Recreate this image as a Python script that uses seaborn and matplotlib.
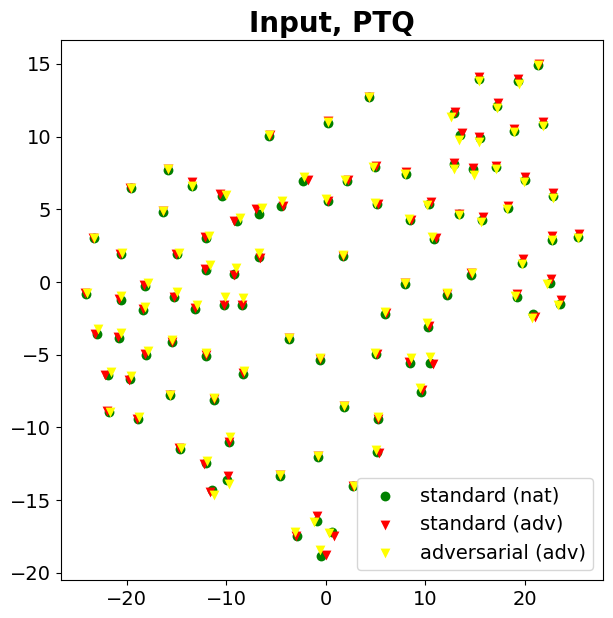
import matplotlib
matplotlib.use("Agg")
import matplotlib.pyplot as plt
import seaborn as sns
import pandas as pd

# green: standard (nat)
nat_x = [21.3, 15.4, 19.3, 17.2, 4.35, 0.23, -5.7, 12.9, 13.5, 15.5, 18.9, 21.8, 12.9, 14.8, 17.1, 20.0, 22.85, 10.4, 18.3, 13.4,
         15.7, -15.9, -19.6, -13.4, -10.45, -16.35, -8.9, 4.9, 8.1, -2.3, 2.1, -6.7, -4.45, 0.2, 5.1, 8.45, -23.3, -20.6, -14.9, -12.0,
         -12.0, -9.2, -18.2, -24.1, -20.6, -18.4, -15.2, -13.1, -10.2, -8.4, -23.0, -20.8, -15.4, -18.1, -12.0, -8.3, -21.9, -19.7, -15.6, -11.2,
         -6.7, 1.74, 8.0, 5.93, -3.7, -0.6, 5.0, 8.44, 9.6, 1.84, 10.9, 22.75, 25.35, 19.75, 14.6, 12.2, 22.5, 19.2, 23.5, 20.8,
         10.3, 10.5, -21.8, -18.9, -14.6, -9.7, -12.0, -9.88, -11.4, 5.26, -0.77, 5.16, -4.6, 2.74, -0.84, -2.94, 0.67, -0.43]
nat_y = [14.9, 13.95, 13.8, 12.1, 12.7, 10.97, 10.05, 11.6, 10.1, 9.9, 10.4, 10.85, 8.1, 7.75, 7.9, 7.0, 5.9, 5.4, 5.1, 4.65,
         4.3, 7.7, 6.45, 6.6, 5.9, 4.85, 4.2, 7.9, 7.4, 6.95, 6.95, 4.7, 5.2, 5.55, 5.35, 4.3, 3.0, 1.9, 1.9, 3.05,
         0.8, 0.57, -0.3, -0.8, -1.27, -1.9, -1.04, -1.86, -1.57, -1.57, -3.6, -3.87, -4.14, -5.0, -5.1, -6.3, -6.4, -6.7, -7.8, -8.1,
         1.72, 1.77, -0.12, -2.19, -3.9, -5.36, -4.95, -5.55, -7.55, -8.6, 2.99, 2.92, 3.08, 1.3, 0.5, -0.88, -0.07, -1.06, -1.5, -2.2,
         -3.1, -5.55, -8.93, -9.39, -11.5, -11.0, -12.45, -13.64, -14.29, -9.45, -12.03, -11.69, -13.37, -14.06, -16.47, -17.44, -17.2, -18.82]

# red: standard (adv)
std_adv_x = [21.4, 15.4, 19.3, 17.3, 4.35, 0.23, -5.65, 13.0, 13.7, 15.4, 18.9, 21.8, 12.85, 14.8, 17.1, 20.0, 22.85, 10.55, 18.35, 13.35,
             15.75, -15.9, -19.7, -13.4, -10.6, -16.35, -9.25, 5.05, 8.1, -1.8, 2.25, -7.0, -4.25, 0.25, 5.25, 8.6, -23.35, -20.7, -15.0, -12.15,
             -12.15, -9.25, -18.3, -24.2, -20.8, -18.4, -15.2, -13.15, -10.2, -8.4, -23.2, -20.9, -15.4, -18.2, -12.0, -8.3, -22.15, -19.8, -15.6, -11.2,
             -6.65, 1.74, 8.0, 6.0, -3.7, -0.6, 5.1, 8.4, 9.7, 1.84, 11.05, 22.75, 25.4, 19.8, 14.6, 12.2, 22.65, 19.2, 23.65, 21.0,
             10.4, 10.78, -22.0, -19.0, -14.7, -9.7, -12.25, -9.85, -11.6, 5.26, -0.77, 5.3, -4.6, 2.74, -0.84, -3.0, 0.84, 0.0]
std_adv_y = [15.0, 14.1, 13.95, 12.3, 12.75, 11.05, 10.1, 11.7, 10.25, 10.0, 10.5, 11.0, 8.2, 7.85, 8.0, 7.2, 6.1, 5.5, 5.2, 4.7,
             4.45, 7.8, 6.5, 6.85, 6.05, 4.9, 4.2, 8.0, 7.6, 7.05, 7.0, 5.0, 5.2, 5.6, 5.4, 4.3, 3.05, 1.9, 1.95, 3.1,
             0.9, 0.5, -0.2, -0.75, -1.2, -1.85, -1.0, -1.8, -1.6, -1.6, -3.55, -3.8, -4.1, -4.95, -5.0, -6.25, -6.4, -6.75, -7.75, -8.05,
             1.65, 1.8, -0.05, -2.1, -3.85, -5.3, -4.95, -5.5, -7.45, -8.55, 3.05, 3.2, 3.33, 1.6, 0.6, -0.8, 0.2, -0.8, -1.22, -2.4,
             -3.0, -5.64, -8.9, -9.4, -11.4, -11.0, -12.54, -13.37, -14.45, -9.4, -11.95, -11.75, -13.3, -14.0, -16.1, -17.5, -17.44, -18.75]

# yellow: adversarial (adv)
adv_adv_x = [21.3, 15.4, 19.4, 17.2, 4.35, 0.23, -5.7, 12.6, 13.4, 15.4, 18.9, 21.8, 12.85, 14.9, 17.1, 19.95, 22.85, 10.2, 18.2, 13.35,
             15.6, -15.9, -19.55, -13.4, -10.0, -16.35, -8.6, 4.75, 8.0, -2.2, 1.9, -6.4, -4.4, 0.0, 4.9, 8.35, -23.25, -20.5, -14.7, -11.7,
             -11.6, -9.0, -17.9, -24.0, -20.6, -18.15, -14.95, -12.95, -10.1, -8.3, -22.9, -20.6, -15.4, -17.9, -12.0, -8.25, -21.6, -19.6, -15.6, -11.2,
             -6.7, 1.74, 7.95, 5.95, -3.7, -0.6, 4.95, 8.55, 9.5, 1.84, 10.7, 22.75, 25.35, 19.75, 14.65, 12.2, 22.25, 19.0, 23.3, 20.7,
             10.2, 10.5, -21.7, -18.75, -14.5, -9.6, -11.9, -9.7, -11.2, 5.26, -0.77, 5.0, -4.6, 2.8, -1.2, -3.05, 0.33, -0.63]
adv_adv_y = [14.95, 13.85, 13.6, 12.0, 12.75, 11.0, 10.1, 11.35, 9.8, 9.6, 10.3, 10.75, 7.75, 7.35, 7.8, 6.9, 5.8, 5.3, 5.0, 4.6,
             4.15, 7.75, 6.5, 6.6, 6.0, 4.9, 4.4, 7.9, 7.45, 7.25, 7.05, 5.1, 5.55, 5.7, 5.45, 4.35, 3.05, 2.0, 2.0, 3.2,
             1.15, 0.97, -0.1, -0.75, -0.95, -1.73, -0.72, -1.57, -1.04, -1.1, -3.25, -3.5, -4.0, -4.75, -4.9, -6.15, -6.17, -6.47, -7.75, -7.95,
             2.0, 1.85, -0.05, -2.05, -3.85, -5.25, -4.9, -5.25, -7.3, -8.5, 3.1, 2.9, 3.05, 1.25, 0.65, -0.75, -0.12, -0.95, -1.57, -2.49,
             -2.83, -5.13, -8.95, -9.28, -11.4, -10.66, -12.33, -13.92, -14.68, -9.3, -11.95, -11.53, -13.3, -14.0, -16.52, -17.17, -17.28, -18.47]

labels = ["standard (nat)", "standard (adv)", "adversarial (adv)"]
title = "Input, PTQ"

df_nat = pd.DataFrame({"x": nat_x, "y": nat_y})
df_std = pd.DataFrame({"x": std_adv_x, "y": std_adv_y})
df_adv = pd.DataFrame({"x": adv_adv_x, "y": adv_adv_y})

fig = plt.figure(figsize=(6.13, 6.18), dpi=100)
ax = fig.add_axes([61/613, 1 - 580/618, (603 - 61)/613, (580 - 40)/618])

sns.scatterplot(data=df_nat, x="x", y="y", ax=ax, color="green", marker="o", s=50, linewidth=0, label=labels[0])
sns.scatterplot(data=df_std, x="x", y="y", ax=ax, color="red", marker="v", s=50, linewidth=0, label=labels[1])
sns.scatterplot(data=df_adv, x="x", y="y", ax=ax, color="yellow", marker="v", s=50, linewidth=0, label=labels[2])

ax.set_xlim(-26.6, 27.85)
ax.set_ylim(-20.5, 16.65)
ax.set_xticks([-20, -10, 0, 10, 20])
ax.set_yticks([-20, -15, -10, -5, 0, 5, 10, 15])
ax.set_xlabel("")
ax.set_ylabel("")
ax.tick_params(labelsize=14)
ax.set_title(title, fontsize=20, fontweight="bold")
ax.legend(loc="lower right", fontsize=14)

fig.savefig("out.png", dpi=100)
